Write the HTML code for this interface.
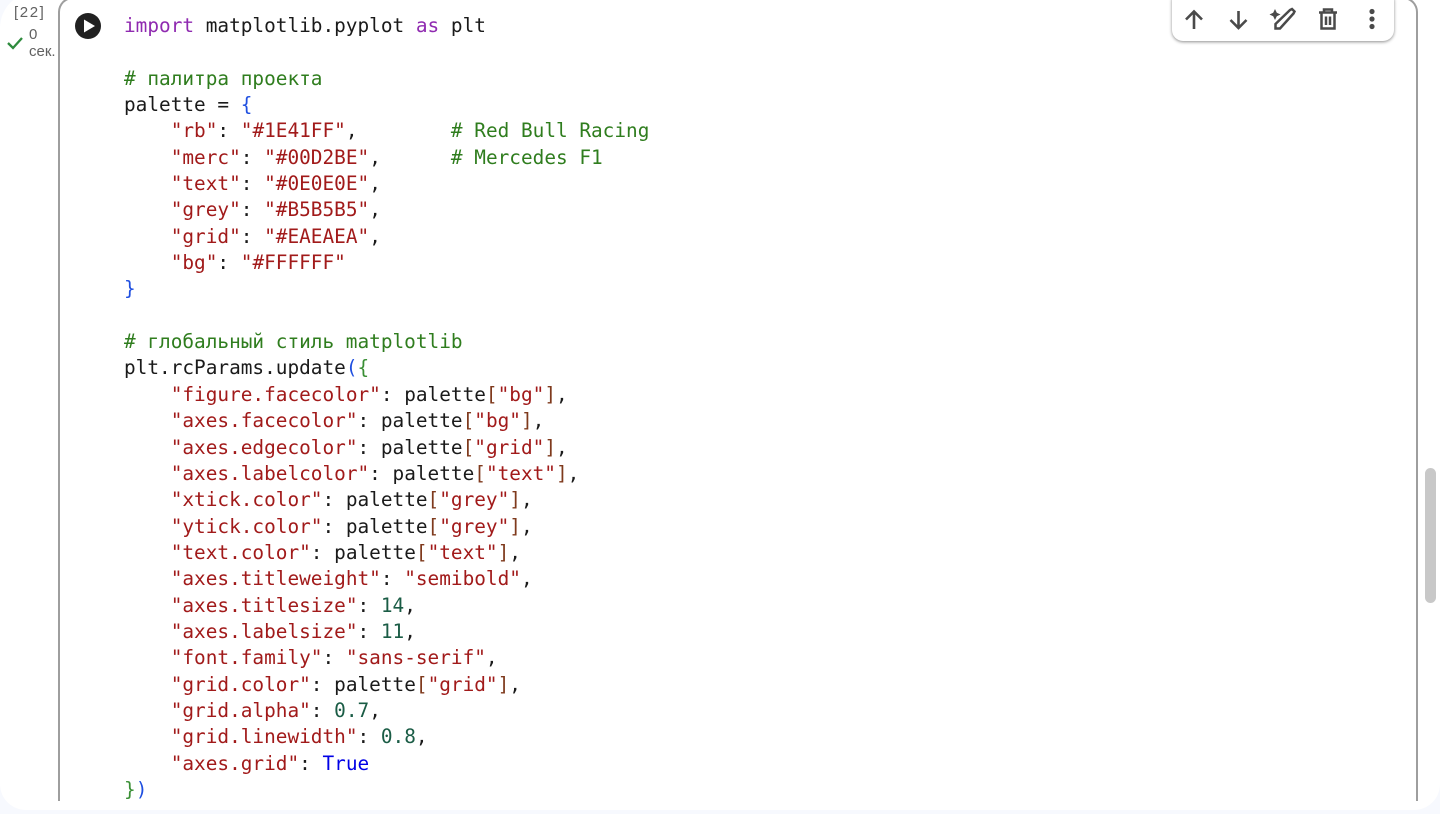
<!DOCTYPE html>
<html>
<head>
<meta charset="utf-8">
<style>
html,body{margin:0;padding:0;width:1440px;height:814px;overflow:hidden;background:#f7f9fe;}
#page{position:absolute;left:0;top:-8px;width:1440px;height:818px;background:#fff;border-radius:36px 0 26px 26px;}
#cell{position:absolute;left:58px;top:-3px;width:1360px;height:804px;box-sizing:border-box;border:2px solid #9e9e9e;border-bottom:none;border-radius:15px 15px 0 0;}
pre{position:absolute;left:124px;top:13px;margin:0;font-family:"DejaVu Sans Mono","Liberation Mono",monospace;font-size:19.4px;line-height:26.35px;color:#1a1a1a;filter:blur(.35px);}
.k{color:#8f2ab0}.c{color:#2f7d1e}.s{color:#a11a1a}.n{color:#1a5c45}.b{color:#1f4fe0}.g{color:#3a8f35}.t{color:#0000e6}.r{color:#7f3a1d}
.cnt{position:absolute;left:14px;top:4px;font:15px "Liberation Sans",sans-serif;color:#616161;letter-spacing:1.6px;filter:blur(.3px);}
.sec{position:absolute;left:29px;top:26px;font:15px/17px "Liberation Sans",sans-serif;color:#616161;filter:blur(.3px);}
#bar{position:absolute;left:1172px;top:-10px;width:222px;height:51px;background:#fff;border-radius:11px;box-shadow:0 1px 3px rgba(0,0,0,.45);}
#sb{position:absolute;left:1425px;top:468px;width:11px;height:135px;background:#c8c8c8;border-radius:6px;}
svg{position:absolute;}
</style>
</head>
<body>
<div id="page"></div>
<div id="cell"></div>
<div class="cnt">[22]</div>
<svg style="left:6px;top:36px" width="18" height="14" viewBox="0 0 18 14"><path d="M2 7l5 5L16 2" fill="none" stroke="#2e8b3d" stroke-width="2.3"/></svg>
<div class="sec">0<br>сек.</div>
<svg style="left:74px;top:12px" width="28" height="28" viewBox="0 0 28 28"><circle cx="14" cy="14" r="13" fill="#212121"/><path d="M10 7.500L21 14L10 20.500Z" fill="#fff"/></svg>
<pre><span class="k">import</span> matplotlib.pyplot <span class="k">as</span> plt

<span class="c"># палитра проекта</span>
palette = <span class="b">{</span>
    <span class="s">"rb"</span>: <span class="s">"#1E41FF"</span>,        <span class="c"># Red Bull Racing</span>
    <span class="s">"merc"</span>: <span class="s">"#00D2BE"</span>,      <span class="c"># Mercedes F1</span>
    <span class="s">"text"</span>: <span class="s">"#0E0E0E"</span>,
    <span class="s">"grey"</span>: <span class="s">"#B5B5B5"</span>,
    <span class="s">"grid"</span>: <span class="s">"#EAEAEA"</span>,
    <span class="s">"bg"</span>: <span class="s">"#FFFFFF"</span>
<span class="b">}</span>

<span class="c"># глобальный стиль matplotlib</span>
plt.rcParams.update<span class="b">(</span><span class="g">{</span>
    <span class="s">"figure.facecolor"</span>: palette<span class="r">[</span><span class="s">"bg"</span><span class="r">]</span>,
    <span class="s">"axes.facecolor"</span>: palette<span class="r">[</span><span class="s">"bg"</span><span class="r">]</span>,
    <span class="s">"axes.edgecolor"</span>: palette<span class="r">[</span><span class="s">"grid"</span><span class="r">]</span>,
    <span class="s">"axes.labelcolor"</span>: palette<span class="r">[</span><span class="s">"text"</span><span class="r">]</span>,
    <span class="s">"xtick.color"</span>: palette<span class="r">[</span><span class="s">"grey"</span><span class="r">]</span>,
    <span class="s">"ytick.color"</span>: palette<span class="r">[</span><span class="s">"grey"</span><span class="r">]</span>,
    <span class="s">"text.color"</span>: palette<span class="r">[</span><span class="s">"text"</span><span class="r">]</span>,
    <span class="s">"axes.titleweight"</span>: <span class="s">"semibold"</span>,
    <span class="s">"axes.titlesize"</span>: <span class="n">14</span>,
    <span class="s">"axes.labelsize"</span>: <span class="n">11</span>,
    <span class="s">"font.family"</span>: <span class="s">"sans-serif"</span>,
    <span class="s">"grid.color"</span>: palette<span class="r">[</span><span class="s">"grid"</span><span class="r">]</span>,
    <span class="s">"grid.alpha"</span>: <span class="n">0.7</span>,
    <span class="s">"grid.linewidth"</span>: <span class="n">0.8</span>,
    <span class="s">"axes.grid"</span>: <span class="t">True</span>
<span class="g">}</span><span class="b">)</span></pre>
<div id="bar"></div>
<svg style="left:1180px;top:6px" width="200" height="28" viewBox="0 0 200 28" fill="none" stroke="#4a4a4a" stroke-width="2.6">
<path d="M14 23V6M6 13.500l8-8 8 8"/>
<path d="M58.500 5v17M50.500 14l8 8 8-8"/>
<path d="M95.500 22.500v-4.500L110 4l2-1 2.500 2.500-1 2L100 22.500Z" stroke-width="2.500"/>
<path d="M95 3l1.800 3.700L100.500 8.500l-3.700 1.800L95 14l-1.800-3.700L89.500 8.500l3.700-1.800Z" fill="#4a4a4a" stroke="none"/>
<path d="M139 6.500h18M144 6V3.500h8V6M141.500 7v15.500h13V7M146 10.500v8.500M150 10.500v8.500" stroke-width="2.500"/>
<circle cx="192" cy="5.500" r="2.600" fill="#4a4a4a" stroke="none"/><circle cx="192" cy="13" r="2.600" fill="#4a4a4a" stroke="none"/><circle cx="192" cy="20.500" r="2.600" fill="#4a4a4a" stroke="none"/>
</svg>
<div id="sb"></div>
</body>
</html>
